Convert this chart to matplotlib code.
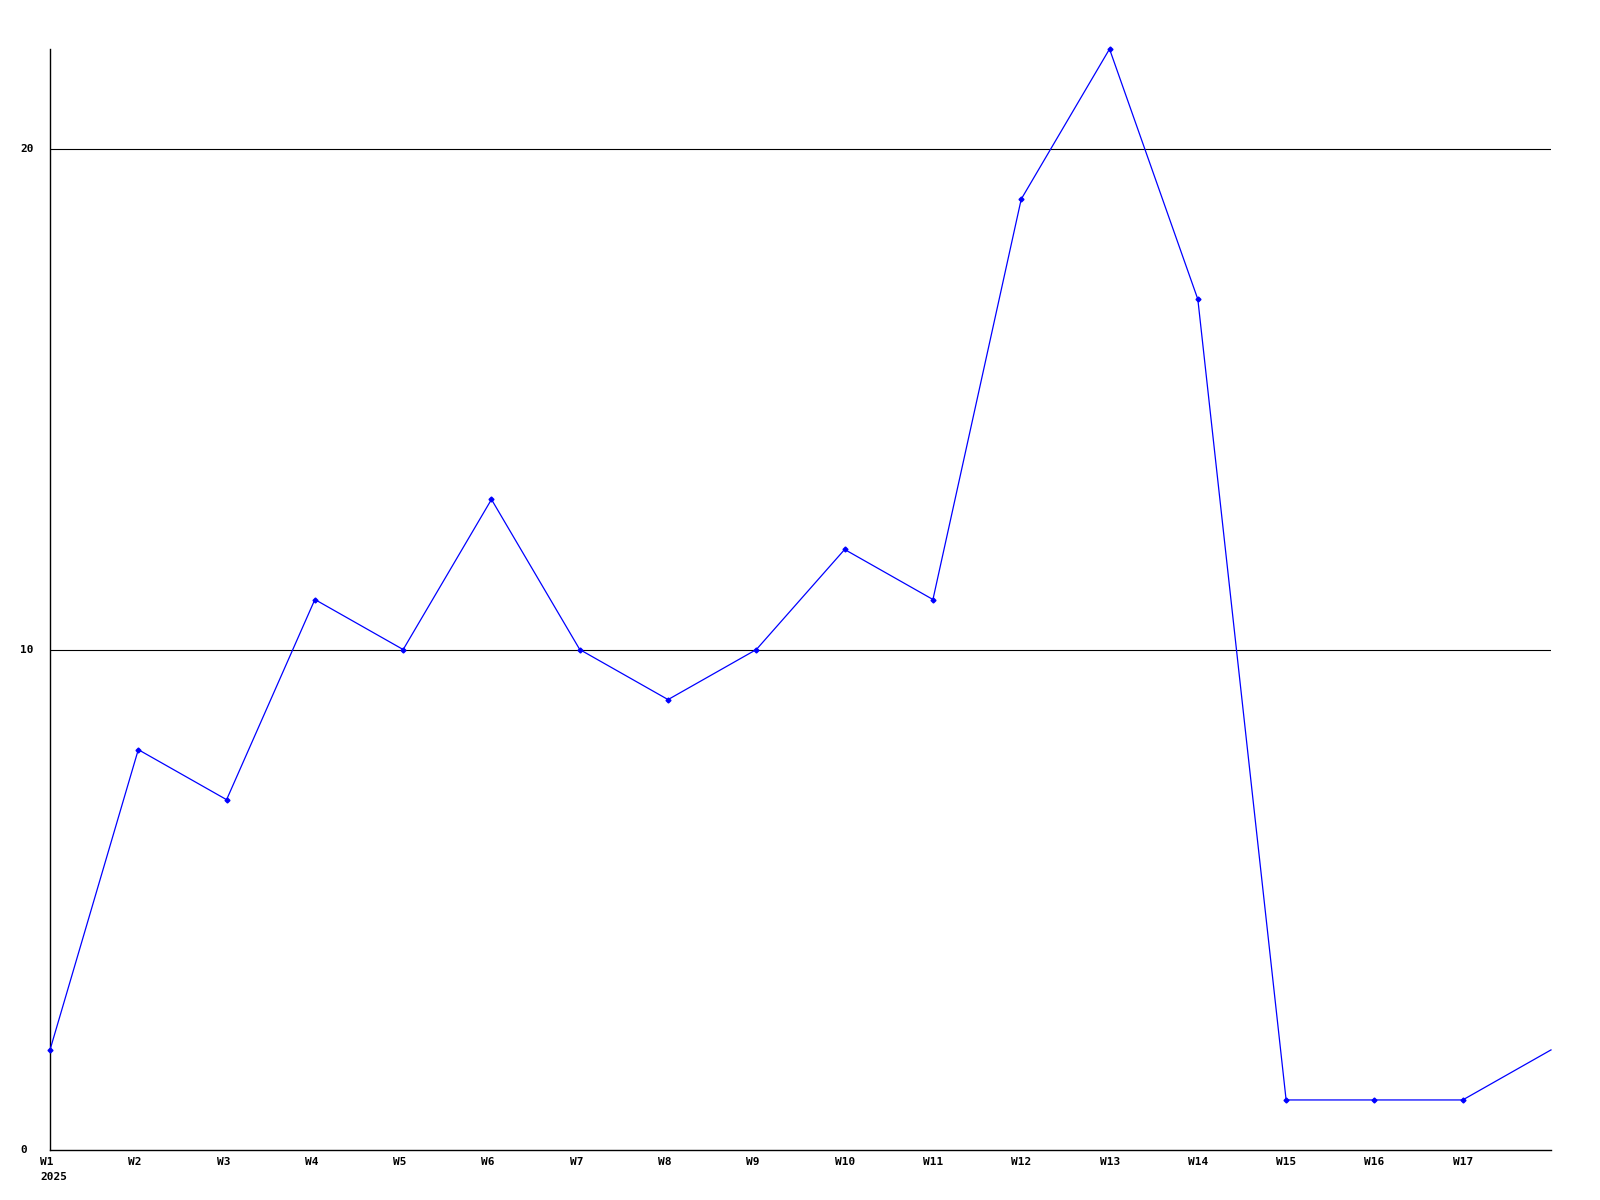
import matplotlib.pyplot as plt
import matplotlib.transforms as mtransforms

weeks = ['W%d' % i for i in range(1, 19)]
values = [2, 8, 7, 11, 10, 13, 10, 9, 10, 12, 11, 19, 22, 17, 1, 1, 1, 2]
tick_labels = weeks[:17]
year = '2025'
y_ticks = [0, 10, 20]

fig = plt.figure(figsize=(16, 12), dpi=100)
ax = fig.add_axes([50 / 1600, 1 - 1150 / 1200, 1501 / 1600, 1101 / 1200])

x = list(range(len(values)))
ax.plot(x, values, color='#0000ff', lw=0.9, marker='D', ms=2.5,
        markevery=list(range(17)), clip_on=False, zorder=3)

for v in y_ticks[1:]:
    ax.axhline(v, color='black', lw=0.8, zorder=1)

ax.set_xlim(0, 17)
ax.set_ylim(0, 22)
ax.set_xticks([])
ax.set_yticks([])
for s in ['top', 'right']:
    ax.spines[s].set_visible(False)
for s in ['left', 'bottom']:
    ax.spines[s].set_linewidth(1.0)

font = dict(family='DejaVu Sans Mono', weight='bold', size=8)

# x labels, left aligned a bit left of each point
xoff = mtransforms.offset_copy(ax.get_xaxis_transform(), fig=fig, x=-10, y=-12, units='dots')
for i, lab in enumerate(tick_labels):
    ax.text(i, 0, lab, transform=xoff, ha='left', va='center', **font)
yoff = mtransforms.offset_copy(ax.get_xaxis_transform(), fig=fig, x=-10, y=-27, units='dots')
ax.text(0, 0, year, transform=yoff, ha='left', va='center', **font)

# y labels at fixed left position
ylab = mtransforms.blended_transform_factory(fig.transFigure, ax.transData)
for v in y_ticks:
    ax.text(20 / 1600, v, str(v), transform=ylab, ha='left', va='center', **font)

fig.savefig('out.png', dpi=100)
